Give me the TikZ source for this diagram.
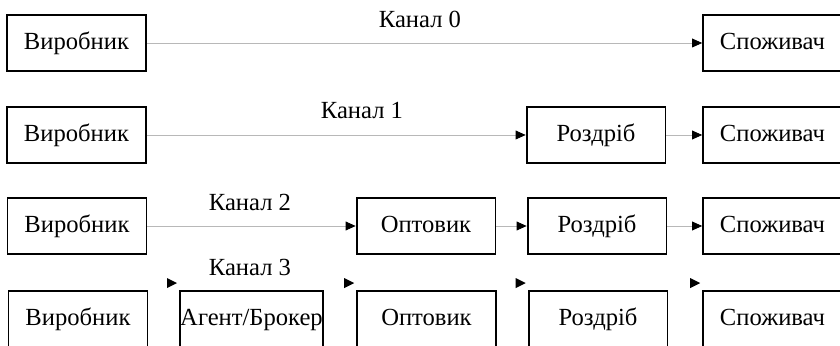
\documentclass[tikz,border=0pt]{standalone}
\usepackage{fontspec}
\setmainfont{Liberation Serif}
\newfontfamily\boxfont{Liberation Serif}
\usetikzlibrary{arrows.meta}

\begin{document}
\begin{tikzpicture}[x=0.025cm, y=-0.025cm,
    every node/.style={font=\boxfont\fontsize{17.5}{20}\selectfont, text height=12pt, text depth=3pt},
    box/.style={draw, line width=1.3pt, minimum width=3.47cm, minimum height=1.4cm, inner sep=0pt},
    link/.style={draw=black!28, line width=0.6pt, -{Triangle[black, length=0.25cm, width=0.22cm]}}]
      \useasboundingbox (0,0) rectangle (840,346);
      \node[box] (p0) at (76.5, 43) {Виробник};
      \node[box] (c0) at (772.5, 43) {Споживач};
      \node[box] (p1) at (76.5, 135) {Виробник};
      \node[box] (r1) at (596, 135) {Роздріб};
      \node[box] (c1) at (772.5, 135) {Споживач};
      \node[box] (p2) at (77, 226) {Виробник};
      \node[box] (w2) at (426, 226) {Оптовик};
      \node[box] (r2) at (597, 226) {Роздріб};
      \node[box] (c2) at (772.5, 226) {Споживач};
      \node[box] (p3) at (78, 319) {Виробник};
      \node[box, minimum width=3.575cm] (a3) at (251.5, 319) {Агент/Брокер};
      \node[box] (w3) at (426.5, 319) {Оптовик};
      \node[box] (r3) at (598, 319) {Роздріб};
      \node[box] (c3) at (772.5, 319) {Споживач};
      \node[anchor=center] (l0) at (420, 21) {Канал 0};
      \node[anchor=center] (l1) at (362, 112) {Канал 1};
      \node[anchor=center] (l2) at (250, 204) {Канал 2};
      \node[anchor=center] (l3) at (250, 269) {Канал 3};
      \draw[link] (p0) -- (c0);
      \draw[link] (p1) -- (r1);
      \draw[link] (r1) -- (c1);
      \draw[link] (p2) -- (w2);
      \draw[link] (w2) -- (r2);
      \draw[link] (r2) -- (c2);
      \foreach \n in {a3, w3, r3, c3}
        \fill ([shift={(-2,-7)}]\n.north west) -- ++(-10,-5) -- ++(0,10) -- cycle;
    \end{tikzpicture}
\end{document}
